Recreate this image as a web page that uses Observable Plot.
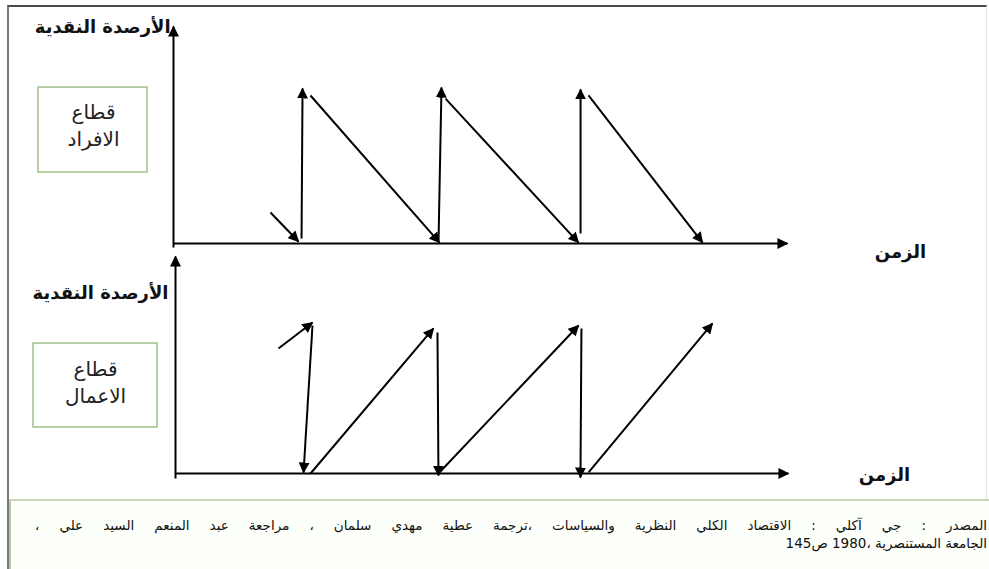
<!DOCTYPE html>
<html><head><meta charset="utf-8">
<script src="https://cdn.jsdelivr.net/npm/d3@7"></script>
<script src="https://cdn.jsdelivr.net/npm/@observablehq/plot@0.6"></script>
<style>
body{margin:0;background:#fff;}
#wrap{position:relative;width:989px;height:569px;overflow:hidden;font-family:"DejaVu Sans",sans-serif;}
#frame{position:absolute;left:7px;top:5px;width:977px;height:580px;border-top:2px solid #4a4a4a;border-left:2px solid #777;border-right:1px solid #e6e6e6;}
.panel{position:absolute;left:0;}
#top{top:0;}
#bottom{top:250px;}
#cap{position:absolute;left:9px;top:499px;width:978px;height:80px;border-top:2px solid #c9d6b5;border-left:2px solid #b5cca0;background:#fdfffa;}
.line{position:absolute;direction:rtl;font-size:13.5px;line-height:17px;color:#111;white-space:nowrap;}
#l1{right:2px;width:952px;top:16px;text-align:justify;text-align-last:justify;}
#l2{right:2px;top:34px;text-align:right;}
</style>
</head><body>
<div id="wrap">
  <div id="frame"></div>
  <div id="top" class="panel"></div>
  <div id="bottom" class="panel"></div>
  <div id="cap"></div>
</div>
<script>
// ---- data (time in cycle units, money balance in peak units) ----
const householdArrows = [
  [0.695, 0.200, 0.896, 0.013],
  [0.918, 0.032, 0.925, 1.000],
  [0.982, 0.955, 1.907, 0.006],
  [1.900, 0.019, 1.921, 1.006],
  [1.950, 0.935, 2.903, 0.006],
  [2.918, 0.065, 2.918, 0.994],
  [2.975, 0.955, 3.792, 0.006]
];
const householdAxes = [[0, -0.026, 0, 1.40], [0, 0, 4.401, 0]];

const businessArrows = [
  [0.738, 0.845, 0.982, 1.020],
  [0.982, 1.000, 0.918, 0.007],
  [0.968, 0.000, 1.849, 0.980],
  [1.878, 0.953, 1.885, -0.014],
  [1.885, 0.000, 2.889, 1.000],
  [2.910, 0.980, 2.903, -0.027],
  [2.961, 0.007, 3.849, 1.014]
];
const businessAxes = [[0, -0.034, 0, 1.466], [0, 0, 4.394, 0]];

const yAxisTitle = "الأرصدة النقدية";
const xAxisTitle = "الزمن";
const householdSector = "قطاع\nالافراد";
const businessSector = "قطاع\nالاعمال";
const sourceLine1 = "المصدر : جي آكلي : الاقتصاد الكلي النظرية والسياسات ،ترجمة عطية مهدي سلمان ، مراجعة عبد المنعم السيد علي ،";
const sourceLine2 = "الجامعة المستنصرية ،1980 ص145";

// annotation anchors in the same data units
const householdYTitle = [{x: -0.02, y: 1.394, text: yAxisTitle}];
const householdXTitle = [{x: 5.211, y: -0.058, text: xAxisTitle}];
const householdBox = [{x1: -0.968, x2: -0.186, y1: 1.006, y2: 0.458, cx: -0.573, cy: 0.771, text: householdSector}];
const businessYTitle = [{x: -0.05, y: 1.216, text: yAxisTitle}];
const businessXTitle = [{x: 5.082, y: -0.014, text: xAxisTitle}];
const businessBox = [{x1: -1.018, x2: -0.129, y1: 0.878, y2: 0.311, cx: -0.573, cy: 0.628, text: businessSector}];

const seg = a => a.map(([x1, y1, x2, y2]) => ({x1, y1, x2, y2}));

function panel(arrows, axes, yTitle, xTitle, box, xr, yr, id) {
  const svg = Plot.plot({
    width: 989, height: 250,
    margin: 0,
    x: {domain: [0, 1], range: xr, axis: null},
    y: {domain: [0, 1], range: yr, axis: null},
    style: {fontFamily: "DejaVu Sans", background: "transparent", overflow: "visible"},
    marks: [
      Plot.rect(box, {x1: "x1", x2: "x2", y1: "y1", y2: "y2", fill: "white", stroke: "#a6c592", strokeWidth: 1.6}),
      Plot.text(box, {x: "cx", y: "cy", text: "text", fontSize: 20, lineHeight: 1.35, fill: "#222"}),
      Plot.link(seg(axes), {x1: "x1", y1: "y1", x2: "x2", y2: "y2", stroke: "#000", strokeWidth: 2}),
      Plot.link(seg(arrows), {x1: "x1", y1: "y1", x2: "x2", y2: "y2", stroke: "#000", strokeWidth: 2}),
      Plot.text(yTitle, {x: "x", y: "y", text: "text", textAnchor: "end", fontSize: 18, fontWeight: "bold", fill: "#111"}),
      Plot.text(xTitle, {x: "x", y: "y", text: "text", textAnchor: "middle", fontSize: 18, fontWeight: "bold", fill: "#111"})
    ]
  });
  const s = d3.select(svg);
  s.insert("defs", ":first-child").append("marker")
    .attr("id", "head-" + id).attr("viewBox", "0 0 11 11").attr("refX", 10).attr("refY", 5.5)
    .attr("markerWidth", 11).attr("markerHeight", 11).attr("markerUnits", "userSpaceOnUse").attr("orient", "auto")
    .append("path").attr("d", "M0,0L11,5.5L0,11Z").attr("fill", "#000");
  s.selectAll('g[aria-label="link"] path').attr("marker-end", `url(#head-${id})`);
  return svg;
}

document.getElementById("top").append(
  panel(householdArrows, householdAxes, householdYTitle, householdXTitle, householdBox, [173, 312.5], [243, 88], "h"));
document.getElementById("bottom").append(
  panel(businessArrows, businessAxes, businessYTitle, businessXTitle, businessBox, [175, 314.5], [223, 75], "b"));

const cap = document.getElementById("cap");
const l1 = document.createElement("div"); l1.id = "l1"; l1.className = "line"; l1.textContent = sourceLine1;
const l2 = document.createElement("div"); l2.id = "l2"; l2.className = "line"; l2.textContent = sourceLine2;
cap.append(l1, l2);
</script>
</body></html>
